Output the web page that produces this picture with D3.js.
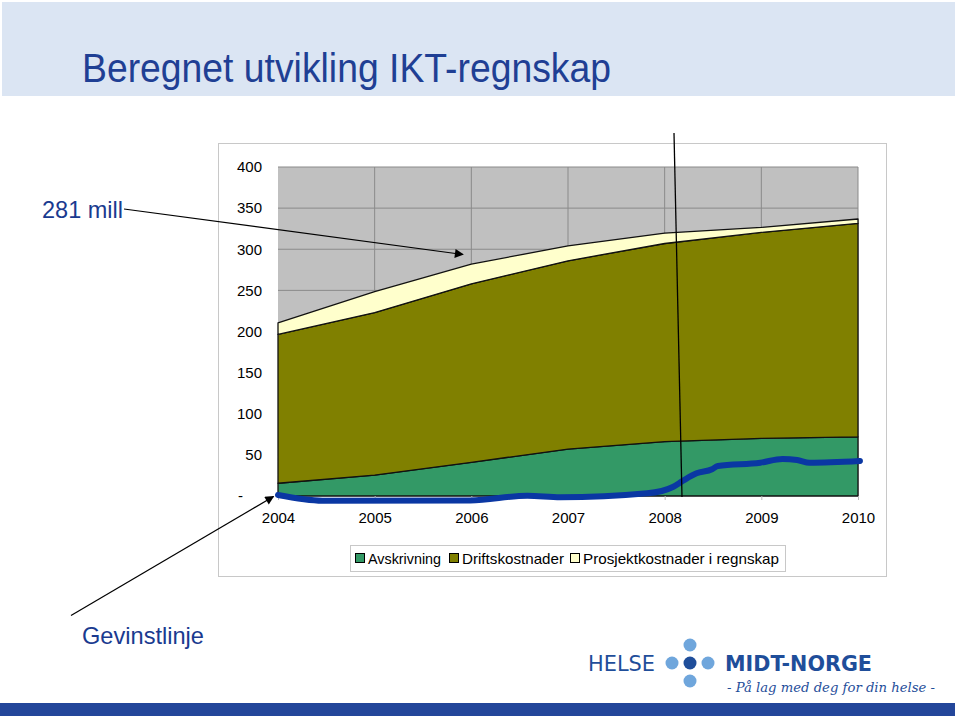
<!DOCTYPE html>
<html><head><meta charset="utf-8">
<script src="https://cdn.jsdelivr.net/npm/d3@7"></script>
<style>body{margin:0;background:#fff}svg{display:block}</style>
</head><body>
<svg id="c" width="960" height="720"></svg>
<script>
const years = [2004, 2005, 2006, 2007, 2008, 2009, 2010];
const avskrivning = [15.5, 25.5, 41, 57, 66, 70, 72];
const driftskostnader = [181, 197.5, 217, 229, 241, 250.5, 259.5];
const prosjektkostnader = [14, 25.5, 24, 18, 12.5, 6, 5.3];
const seriesNames = ["Avskrivning", "Driftskostnader", "Prosjektkostnader i regnskap"];
const seriesColors = ["#339966", "#808000", "#ffffcc"];
const yTicks = [0, 50, 100, 150, 200, 250, 300, 350, 400];
// Gevinstlinje (hand-drawn benefit line): [year position, value]
const gevinstX = [2004.0, 2004.46, 2005.99, 2006.58, 2006.92, 2007.82, 2008.09, 2008.19, 2008.33, 2008.49, 2008.55, 2008.99, 2009.22, 2009.37, 2009.5, 2010.02];
const gevinstY = [1.2, -5.7, -5.5, 0.4, -1.6, 3.3, 11.3, 18.6, 27.6, 32.5, 36.5, 40.5, 45, 43.8, 40.5, 42.6];

const svg = d3.select("#c");
const font = "Liberation Sans, Arial, sans-serif";

// header band
svg.append("rect").attr("x", 2).attr("y", 2).attr("width", 953).attr("height", 94).attr("fill", "#dbe5f3");
svg.append("text").attr("x", 82).attr("y", 82).attr("font-family", font).attr("font-size", 41)
  .attr("textLength", 529).attr("lengthAdjust", "spacingAndGlyphs")
  .attr("fill", "#1f3f94").text("Beregnet utvikling IKT-regnskap");

// bottom bar
svg.append("rect").attr("x", 0).attr("y", 703).attr("width", 955).attr("height", 13).attr("fill", "#23469a");

// chart box
svg.append("rect").attr("x", 218.5).attr("y", 143.5).attr("width", 668).attr("height", 433)
  .attr("fill", "#fff").attr("stroke", "#c8c8c8");

const x = d3.scaleLinear().domain([2004, 2010]).range([278, 858]);
const y = d3.scaleLinear().domain([0, 400]).range([496, 167]);

// plot bg
svg.append("rect").attr("x", x(2004)).attr("y", y(400)).attr("width", x(2010) - x(2004)).attr("height", y(0) - y(400))
  .attr("fill", "#c0c0c0");

// gridlines
svg.append("g").selectAll("line").data(yTicks.filter(d => d > 0)).join("line")
  .attr("x1", x(2004)).attr("x2", x(2010)).attr("y1", d => y(d)).attr("y2", d => y(d))
  .attr("stroke", "#8a8a8a").attr("stroke-width", 1);
svg.append("g").selectAll("line").data(years.slice(1)).join("line")
  .attr("x1", d => x(d)).attr("x2", d => x(d)).attr("y1", y(400)).attr("y2", y(0))
  .attr("stroke", "#8a8a8a").attr("stroke-width", 1);

// stacked areas
const table = years.map((yr, i) => ({year: yr, a: avskrivning[i], d: driftskostnader[i], p: prosjektkostnader[i]}));
const stack = d3.stack().keys(["a", "d", "p"])(table);
const area = d3.area().x(d => x(d.data.year)).y0(d => y(d[0])).y1(d => y(d[1]));
svg.append("g").selectAll("path").data(stack).join("path")
  .attr("d", area).attr("fill", (d, i) => seriesColors[i])
  .attr("stroke", "#111").attr("stroke-width", 1.3).attr("stroke-linejoin", "round");

// axes
const yAxis = d3.axisLeft(y).tickValues(yTicks).tickSize(0).tickPadding(16)
  .tickFormat(d => d === 0 ? "-" : d);
const gy = svg.append("g").attr("transform", `translate(${x(2004)},0)`).call(yAxis);
gy.select(".domain").remove();
gy.selectAll("text").attr("font-family", font).attr("font-size", 15).attr("fill", "#000");
gy.selectAll(".tick").filter(d => d === 0).select("text").attr("dx", -19);

const xAxis = d3.axisBottom(x).tickValues(years).tickFormat(d3.format("d")).tickSize(4).tickPadding(12);
const gx = svg.append("g").attr("transform", `translate(0,${y(0)})`).call(xAxis);
gx.select(".domain").remove();
gx.selectAll("line").attr("stroke", "#bbb");
gx.selectAll("text").attr("font-family", font).attr("font-size", 15).attr("fill", "#000");

// gevinstlinje
const gData = gevinstX.map((v, i) => [v, gevinstY[i]]);
svg.append("path").datum(gData)
  .attr("d", d3.line().x(d => x(d[0])).y(d => y(d[1])).curve(d3.curveMonotoneX))
  .attr("fill", "none").attr("stroke", "#0a37a3").attr("stroke-width", 6)
  .attr("stroke-linecap", "round").attr("stroke-linejoin", "round");

// legend
const lg = svg.append("g");
lg.append("rect").attr("x", 350.5).attr("y", 545.5).attr("width", 435).attr("height", 26)
  .attr("fill", "#fff").attr("stroke", "#c8c8c8");
const legX = [355, 449, 570];
const legW = [73, 102, 196];
seriesNames.forEach((n, i) => {
  lg.append("rect").attr("x", legX[i] + 0.5).attr("y", 553.5).attr("width", 9).attr("height", 9)
    .attr("fill", seriesColors[i]).attr("stroke", "#000");
  lg.append("text").attr("x", legX[i] + 13).attr("y", 563.5).attr("font-family", font).attr("font-size", 15)
    .attr("textLength", legW[i]).attr("lengthAdjust", "spacingAndGlyphs").text(n);
});

// arrows
const defs = svg.append("defs");
defs.append("marker").attr("id", "ah").attr("viewBox", "0 0 10 10").attr("refX", 9).attr("refY", 5)
  .attr("markerWidth", 12).attr("markerHeight", 9).attr("markerUnits", "userSpaceOnUse").attr("orient", "auto")
  .append("path").attr("d", "M0,0 L10,5 L0,10 z").attr("fill", "#000");

svg.append("text").attr("x", 42).attr("y", 218).attr("font-family", font).attr("font-size", 24)
  .attr("textLength", 81).attr("lengthAdjust", "spacingAndGlyphs")
  .attr("fill", "#1a3a8f").text("281 mill");
svg.append("line").attr("x1", 124).attr("y1", 209).attr("x2", 463).attr("y2", 254.5)
  .attr("stroke", "#000").attr("stroke-width", 1.2).attr("marker-end", "url(#ah)");

svg.append("text").attr("x", 82).attr("y", 644).attr("font-family", font).attr("font-size", 24)
  .attr("textLength", 122).attr("lengthAdjust", "spacingAndGlyphs")
  .attr("fill", "#1a3a8f").text("Gevinstlinje");
svg.append("line").attr("x1", 71).attr("y1", 615.5).attr("x2", 273.5).attr("y2", 496.5)
  .attr("stroke", "#000").attr("stroke-width", 1.2).attr("marker-end", "url(#ah)");

// vertical marker line
svg.append("line").attr("x1", 674).attr("y1", 133).attr("x2", 682).attr("y2", 497)
  .attr("stroke", "#000").attr("stroke-width", 1.3);

// logo
const logo = svg.append("g");
logo.append("text").attr("x", 588).attr("y", 671).attr("font-family", "DejaVu Sans, sans-serif")
  .attr("font-size", 21).attr("textLength", 67).attr("lengthAdjust", "spacingAndGlyphs")
  .attr("fill", "#1f4e9a").text("HELSE");
[[672, 663, "#6fa6dc"], [708, 663, "#6fa6dc"], [690, 645, "#6fa6dc"], [690, 681, "#6fa6dc"], [690, 663, "#1f4e9a"]]
  .forEach(c => logo.append("circle").attr("cx", c[0]).attr("cy", c[1]).attr("r", 6.5).attr("fill", c[2]));
logo.append("text").attr("x", 725).attr("y", 671).attr("font-family", "DejaVu Sans, sans-serif").attr("font-weight", "bold")
  .attr("font-size", 21).attr("textLength", 147).attr("lengthAdjust", "spacingAndGlyphs")
  .attr("fill", "#1f4e9a").text("MIDT-NORGE");
logo.append("text").attr("x", 727).attr("y", 692).attr("font-family", "DejaVu Serif, serif").attr("font-style", "italic")
  .attr("font-size", 13).attr("textLength", 208).attr("lengthAdjust", "spacingAndGlyphs")
  .attr("fill", "#1f4e9a").text("- På lag med deg for din helse -");
</script>
</body></html>
